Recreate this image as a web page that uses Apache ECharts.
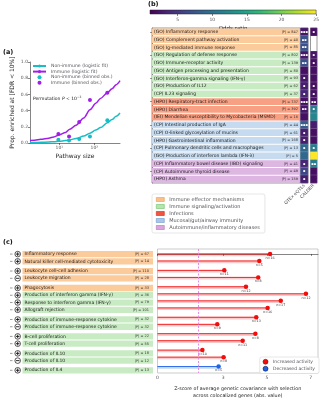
<!DOCTYPE html>
<html>
<head>
<meta charset="utf-8">
<script src="https://cdn.jsdelivr.net/npm/echarts@6/dist/echarts.min.js"></script>
<style>
html,body{margin:0;padding:0;background:#fff;}
#chart{width:322px;height:400px;}
</style>
</head>
<body>
<div id="chart"></div>
<script>
// ---------- (a) share of pathways enriched vs pathway size ----------
const aFitSizes     = [1.46, 2, 3, 5, 7, 10, 15, 20, 30, 50, 75, 110, 150, 235, 320, 420, 540];
const aFitImmune    = [0.03, 0.035, 0.045, 0.06, 0.075, 0.1, 0.13, 0.17, 0.22, 0.31, 0.41, 0.49, 0.55, 0.62, 0.67, 0.72, 0.77];
const aFitNonImmune = [0.004, 0.006, 0.008, 0.012, 0.016, 0.022, 0.03, 0.04, 0.055, 0.085, 0.12, 0.16, 0.19, 0.25, 0.29, 0.33, 0.37];
const aBinSizes     = [9.4, 19, 37, 75, 235];
const aBinImmune    = [0.11, 0.08, 0.26, 0.53, 0.62];
const aBinNonImmune = [0.04, 0.03, 0.05, 0.08, 0.28];

// ---------- (b) odds ratios per pathway ----------
const bTerms = [
  '(GO) Inflammatory response', '(GO) Complement pathway activation', '(GO) Ig-mediated immune response',
  '(GO) Regulation of defense response', '(GO) Immune-receptor activity', '(GO) Antigen processing and presentation',
  '(GO) Interferon-gamma signaling (IFN-γ)', '(GO) Production of IL12', '(CP) IL23 signaling',
  '(HPO) Respiratory-tract infection', '(HPO) Diarrhea', '(IEI) Mendelian susceptibility to Mycobacteria (MSMD)',
  '(CP) Intestinal production of IgA', '(CP) O-linked glycosylation of mucins', '(HPO) Gastrointestinal inflammation',
  '(CP) Pulmonary dendritic cells and macrophages', '(GO) Production of interferon lambda (IFN-λ)',
  '(CP) Inflammatory bowel disease (IBD) signaling', '(CP) Autoimmune thyroid disease', '(HPO) Asthma'
];
const bSizes       = [847, 40, 85, 802, 139, 80, 93, 62, 37, 737, 392, 16, 44, 61, 168, 13, 5, 41, 49, 159];
const bGroup       = [0, 0, 0, 1, 1, 1, 1, 1, 1, 2, 2, 2, 3, 3, 3, 3, 3, 4, 4, 4];
const bColumns     = ['GTEx eQTLs', 'CALDER'];
const bOddsGTEx    = [2.5, 7, 7, 2.5, 7, 2, 2.5, 3, 3.5, 2, 2.5, 2, 8, 3, 3, 9, 9, 3.5, 6, 3];
const bOddsCALDER  = [2, null, null, 2.5, 2, 2, 2, 2, 2, 2, 11, 12, 3, 2, 2, 11, 25, 11, 2, 2];
const bStarsGTEx   = [3, 2, 2, 3, 2, 0, 1, 1, 1, 3, 2, 0, 3, 1, 1, 1, 0, 1, 1, 1];
const bStarsCALDER = [1, 0, 0, 1, 1, 0, 0, 1, 1, 2, 1, 0, 0, 0, 0, 1, 0, 2, 0, 0];
const groupNames = ['Immune effector mechanisms', 'Immune signaling/activation', 'Infections',
                    'Mucosal/gut/airway immunity', 'Autoimmune/inflammatory diseases'];
const orTicks = [5, 10, 15, 20, 25];

// ---------- (c) selection z-scores ----------
const cTerms = [
  'Inflammatory response', 'Natural killer cell-mediated cytotoxicity', 'Leukocyte cell-cell adhesion',
  'Leukocyte migration', 'Phagocytosis', 'Production of interferon gamma (IFN-γ)',
  'Response to interferon gamma (IFN-γ)', 'Allograft rejection', 'Production of immune-response cytokine',
  'Production of immune-response cytokine', 'B-cell proliferation', 'T-cell proliferation',
  'Production of IL10', 'Production of IL10', 'Production of IL4'
];
const cSign   = ['+', '+', '+', '-', '+', '+', '+', '+', '+', '-', '+', '+', '+', '-', '+'];
const cSizes  = [67, 14, 110, 28, 33, 36, 79, 101, 32, 32, 22, 55, 18, 12, 13];
const cGroup  = [0, 0, 0, 0, 0, 1, 1, 1, 1, 1, 1, 1, 1, 1, 1];
const cBlock  = [0, 0, 1, 1, 2, 2, 2, 2, 3, 3, 4, 4, 5, 5, 6];
const cZ      = [5.14, 4.65, 3.05, 4.6, 4.04, 6.78, 5.63, 5.03, 4.51, 2.73, 4.47, 3.89, 2.05, 3.02, 2.79];
const cN      = [16, 5, 11, 8, 12, 12, 17, 16, 13, 9, 8, 11, 10, 8, 5];
const cDecreased = [0, 0, 0, 0, 0, 0, 0, 0, 0, 0, 0, 0, 0, 0, 1];
const cThreshold = 1.85;
const cTicks = [0, 3, 5, 7];

// ---------- styling ----------
const FONT = 'DejaVu Sans';
const CYAN = '#17bec6', PURPLE = '#a11ee8';
const RED = '#f20d0d', BLUE = '#1f63e6';
const viridis = ['#440154', '#482878', '#3e4989', '#31688e', '#26828e', '#1f9e89', '#35b779', '#6ece58', '#b5de2b', '#fde725'];
const bandColors  = ['#fccb9c', '#c9ebc3', '#f8a083', '#c6dbef', '#ddb6e2'];
const patchColors = ['#f9c08c', '#b6e3ae', '#f0553f', '#a9c6e8', '#d8a6dd'];
const patchEdges  = ['#ef9a50', '#6cc465', '#d8201a', '#6f98cf', '#b76fc3'];
const sup = {1: '¹', 2: '²', 3: '³'};

// vertical slot of each row in (c): small extra gap between blocks
const cPos = cTerms.map((_, i) => i + 0.33 * cBlock[i]);

const chart = echarts.init(document.getElementById('chart'), null, {renderer: 'canvas'});

const thin = {color: '#333', width: 0.6};

const bandSeries = groupNames.map((g, gi) => ({
  name: g, type: 'bar', xAxisIndex: 2, yAxisIndex: 2,
  barWidth: '86%', barGap: '-100%',
  itemStyle: {color: bandColors[gi]},
  label: {show: true, position: 'insideLeft', distance: 2, fontSize: 4.5, color: '#222',
          formatter: p => p.name},
  data: bTerms.map((t, i) => bGroup[i] === gi ? 1 : '-')
}));

const heatData = (odds, stars) => odds
  .map((v, i) => v == null ? null : [0, i, v, stars[i]])
  .filter(d => d);

const heatLabel = {
  show: true, color: '#fff', fontSize: 3.6,
  formatter: p => '▪'.repeat(p.data[3])
};

const option = {
  animation: false,
  textStyle: {fontFamily: FONT, color: '#222'},
  grid: [
    {left: 30, top: 62, width: 90, height: 81},
    {left: 150, top: 10, width: 169, height: 4},
    {left: 152, top: 28, width: 148, height: 155, show: true, borderColor: '#555', borderWidth: 0.6},
    {left: 300.5, top: 28, width: 7.5, height: 155, show: true, borderColor: '#555', borderWidth: 0.6},
    {left: 310.5, top: 28, width: 6.5, height: 155, show: true, borderColor: '#555', borderWidth: 0.6},
    {left: 9, top: 249, width: 144, height: 128},
    {left: 157.5, top: 249, width: 160.5, height: 128, show: true, borderColor: '#aaa', borderWidth: 0.6}
  ],
  xAxis: [
    {gridIndex: 0, type: 'log', logBase: 10, min: 1.46, max: 540,
     axisLine: {show: true, lineStyle: thin}, axisTick: {show: true, length: 2, lineStyle: thin},
     splitLine: {show: false}, minorTick: {show: false},
     axisLabel: {fontSize: 4.5, margin: 2, showMinLabel: false, showMaxLabel: false,
       formatter: v => { const e = Math.round(Math.log10(v)); return Math.abs(Math.log10(v) - e) < 1e-6 && sup[e] ? '10' + sup[e] : ''; }},
     name: 'Pathway size', nameLocation: 'middle', nameGap: 10, nameTextStyle: {fontSize: 6}},
    {gridIndex: 1, type: 'value', min: 1, max: 25,
     axisLine: {show: false}, splitLine: {show: false},
     axisTick: {show: true, length: 2, customValues: orTicks, lineStyle: thin},
     axisLabel: {fontSize: 4.5, margin: 3.5, customValues: orTicks},
     name: 'Odds ratio', nameLocation: 'middle', nameGap: 11.5, nameTextStyle: {fontSize: 5.5}},
    {gridIndex: 2, type: 'value', min: 0, max: 1, show: false},
    {gridIndex: 3, type: 'category', data: [bColumns[0]], axisLine: {show: false}, axisTick: {show: false},
     axisLabel: {rotate: 45, fontSize: 4.5, margin: 2}},
    {gridIndex: 4, type: 'category', data: [bColumns[1]], axisLine: {show: false}, axisTick: {show: false},
     axisLabel: {rotate: 45, fontSize: 4.5, margin: 2}},
    {gridIndex: 5, type: 'value', min: 0, max: 1, show: false},
    {gridIndex: 6, type: 'value', min: 0, max: 7.33, splitLine: {show: false},
     axisLine: {show: true, lineStyle: thin},
     axisTick: {show: true, length: 2, customValues: cTicks, lineStyle: thin},
     axisLabel: {fontSize: 4.5, margin: 2, customValues: cTicks},
     name: 'Z-score of average genetic covariance with selection\nacross colocalized genes (abs. value)',
     nameLocation: 'middle', nameGap: 13, nameTextStyle: {fontSize: 4.8, lineHeight: 6.5}}
  ],
  yAxis: [
    {gridIndex: 0, type: 'value', min: 0, max: 1, interval: 0.2, splitLine: {show: false},
     axisLine: {show: true, lineStyle: thin}, axisTick: {show: true, length: 2, lineStyle: thin},
     axisLabel: {fontSize: 4.5, margin: 2, formatter: v => v.toFixed(1)},
     name: 'Prop. enriched at [FDR < 10%]', nameLocation: 'middle', nameGap: 15, nameTextStyle: {fontSize: 6}},
    {gridIndex: 1, type: 'value', min: 0, max: 1, show: false},
    {gridIndex: 2, type: 'category', data: bTerms, inverse: true,
     axisLine: {show: true, lineStyle: {color: '#555', width: 0.6}},
     axisTick: {show: true, length: 2, alignWithLabel: true, lineStyle: {color: '#555', width: 0.6}},
     axisLabel: {show: false}},
    {gridIndex: 3, type: 'category', data: bTerms, inverse: true, show: false},
    {gridIndex: 4, type: 'category', data: bTerms, inverse: true, show: false},
    {gridIndex: 5, type: 'value', min: -0.7, max: 16.9, inverse: true, show: false},
    {gridIndex: 6, type: 'value', min: -0.7, max: 16.9, inverse: true, show: false}
  ],
  visualMap: {
    type: 'continuous', show: false, min: 1, max: 25, dimension: 2,
    seriesIndex: [11, 12], inRange: {color: viridis}
  },
  legend: [
    {left: 32, top: 63.5, orient: 'vertical', itemGap: 0.6, itemWidth: 13, itemHeight: 4, padding: 0,
     textStyle: {fontSize: 4.6}, selectedMode: false,
     data: ['Non-immune (logistic fit)', 'Immune (logistic fit)', 'Non-immune (binned obs.)', 'Immune (binned obs.)']},
    {left: 152, top: 194, orient: 'vertical', itemGap: 2, itemWidth: 8, itemHeight: 4, padding: [3, 5, 3, 4],
     borderColor: '#ccc', borderWidth: 0.5, borderRadius: 2, icon: 'rect', selectedMode: false,
     textStyle: {fontSize: 5},
     data: groupNames.map((g, i) => ({name: g, itemStyle: {color: patchColors[i], borderColor: patchEdges[i], borderWidth: 0.6}}))},
    {right: 3, top: 357, orient: 'vertical', itemGap: 1.5, itemWidth: 5, itemHeight: 5, padding: [2, 4, 2, 3],
     borderColor: '#ccc', borderWidth: 0.5, borderRadius: 2, backgroundColor: '#fff', selectedMode: false,
     textStyle: {fontSize: 4.5},
     data: [{name: 'Increased activity', itemStyle: {borderColor: '#600', borderWidth: 0.5}},
            {name: 'Decreased activity', itemStyle: {borderColor: '#003', borderWidth: 0.5}}]}
  ],
  series: [
    // (a)
    {name: 'Non-immune (logistic fit)', type: 'line', xAxisIndex: 0, yAxisIndex: 0, smooth: 0.3, smoothMonotone: 'x',
     symbol: 'none', lineStyle: {color: CYAN, width: 1.5}, itemStyle: {color: CYAN},
     data: aFitSizes.map((s, i) => [s, aFitNonImmune[i]])},
    {name: 'Immune (logistic fit)', type: 'line', xAxisIndex: 0, yAxisIndex: 0, smooth: 0.3, smoothMonotone: 'x',
     symbol: 'none', lineStyle: {color: PURPLE, width: 1.5}, itemStyle: {color: PURPLE},
     data: aFitSizes.map((s, i) => [s, aFitImmune[i]])},
    {name: 'Non-immune (binned obs.)', type: 'scatter', xAxisIndex: 0, yAxisIndex: 0, symbolSize: 4,
     itemStyle: {color: CYAN, opacity: 1}, data: aBinSizes.map((s, i) => [s, aBinNonImmune[i]])},
    {name: 'Immune (binned obs.)', type: 'scatter', xAxisIndex: 0, yAxisIndex: 0, symbolSize: 4,
     itemStyle: {color: PURPLE, opacity: 1}, data: aBinSizes.map((s, i) => [s, aBinImmune[i]])},
    // colour bar for the odds ratio scale
    {type: 'custom', xAxisIndex: 1, yAxisIndex: 1, silent: true, data: [[1, 25]],
     renderItem: (params, api) => {
       const p0 = api.coord([api.value(0), 0]);
       const p1 = api.coord([api.value(1), 1]);
       return {type: 'rect',
         shape: {x: p0[0], y: p1[1], width: p1[0] - p0[0], height: p0[1] - p1[1]},
         style: {fill: new echarts.graphic.LinearGradient(0, 0, 1, 0,
                   viridis.map((c, i) => ({offset: i / (viridis.length - 1), color: c}))),
                 stroke: '#222', lineWidth: 0.5}};
     }},
    // (b) category bands
    ...bandSeries,
    {name: 'pathway size', type: 'bar', xAxisIndex: 2, yAxisIndex: 2, barWidth: '86%', barGap: '-100%',
     silent: true, itemStyle: {color: 'rgba(0,0,0,0)'},
     label: {show: true, position: 'insideRight', distance: 2, fontSize: 3.5, color: '#333',
             formatter: p => '|P| = ' + bSizes[p.dataIndex]},
     data: bTerms.map(() => 1)},
    // (b) odds-ratio cells
    {type: 'heatmap', xAxisIndex: 3, yAxisIndex: 3, data: heatData(bOddsGTEx, bStarsGTEx),
     itemStyle: {borderColor: 'rgba(255,255,255,0.35)', borderWidth: 0.5}, label: heatLabel},
    {type: 'heatmap', xAxisIndex: 4, yAxisIndex: 4, data: heatData(bOddsCALDER, bStarsCALDER),
     itemStyle: {borderColor: 'rgba(255,255,255,0.35)', borderWidth: 0.5}, label: heatLabel},
    // (c) row labels with direction icons
    {type: 'custom', xAxisIndex: 5, yAxisIndex: 5, silent: true,
     data: cTerms.map((t, i) => [0, cPos[i], i]),
     renderItem: (params, api) => {
       const i = api.value(2);
       const y = api.coord([0, api.value(1)])[1];
       const cs = params.coordSys;
       const bandL = cs.x + 13.5, bandR = cs.x + cs.width, h = 6.3;
       const cx = cs.x + 8.7;
       const kids = [
         {type: 'line', shape: {x1: cs.x + 1, y1: y, x2: cs.x + 3.5, y2: y}, style: {stroke: '#555', lineWidth: 0.6}},
         {type: 'circle', shape: {cx: cx, cy: y, r: 2.8}, style: {fill: '#fff', stroke: '#111', lineWidth: 0.7}},
         {type: 'line', shape: {x1: cx - 1.8, y1: y, x2: cx + 1.8, y2: y}, style: {stroke: '#111', lineWidth: 0.9}},
         {type: 'rect', shape: {x: bandL, y: y - h / 2, width: bandR - bandL, height: h}, style: {fill: bandColors[cGroup[i]]}},
         {type: 'text', style: {text: cTerms[i], x: bandL + 2, y: y, verticalAlign: 'middle', fontSize: 4.5, fill: '#222', fontFamily: FONT}},
         {type: 'text', style: {text: '|P| = ' + cSizes[i], x: bandR - 4, y: y, align: 'right', verticalAlign: 'middle', fontSize: 3.5, fill: '#333', fontFamily: FONT}}
       ];
       if (cSign[i] === '+') {
         kids.push({type: 'line', shape: {x1: cx, y1: y - 1.8, x2: cx, y2: y + 1.8}, style: {stroke: '#111', lineWidth: 0.9}});
       }
       return {type: 'group', children: kids};
     }},
    // (c) stems
    {type: 'custom', xAxisIndex: 6, yAxisIndex: 6, silent: true,
     data: cZ.map((z, i) => [z, cPos[i], cDecreased[i]]),
     renderItem: (params, api) => {
       const a = api.coord([0, api.value(1)]);
       const b = api.coord([api.value(0), api.value(1)]);
       const down = api.value(2) === 1;
       return {type: 'group', children: [
         {type: 'line', shape: {x1: a[0], y1: a[1] + 0.9, x2: b[0], y2: b[1] + 0.9},
          style: {stroke: down ? 'rgba(31,99,230,0.25)' : 'rgba(242,13,13,0.22)', lineWidth: 2.6}},
         {type: 'line', shape: {x1: a[0], y1: a[1], x2: b[0], y2: b[1]},
          style: {stroke: down ? BLUE : RED, lineWidth: 0.9}}
       ]};
     }},
    {name: 'Increased activity', type: 'scatter', xAxisIndex: 6, yAxisIndex: 6, symbolSize: 4.5,
     itemStyle: {color: RED, opacity: 1},
     label: {show: true, position: 'bottom', distance: 0.3, fontSize: 3.3, color: '#333', formatter: p => 'n=' + p.data[2]},
     markLine: {silent: true, symbol: ['none', 'none'], label: {show: false},
                lineStyle: {type: [2, 1.5], color: '#e48be6', width: 1}, data: [{xAxis: cThreshold}]},
     data: cZ.map((z, i) => [z, cPos[i], cN[i]]).filter((d, i) => !cDecreased[i])},
    {name: 'Decreased activity', type: 'scatter', xAxisIndex: 6, yAxisIndex: 6, symbolSize: 4.5,
     itemStyle: {color: BLUE, opacity: 1},
     label: {show: true, position: 'bottom', distance: 0.3, fontSize: 3.3, color: '#333', formatter: p => 'n=' + p.data[2]},
     data: cZ.map((z, i) => [z, cPos[i], cN[i]]).filter((d, i) => cDecreased[i])}
  ],
  graphic: [
    {type: 'text', left: 3, top: 49, style: {text: '(a)', fontSize: 6.5, fontWeight: 'bold', fill: '#111', fontFamily: FONT}},
    {type: 'text', left: 148, top: 1, style: {text: '(b)', fontSize: 6.5, fontWeight: 'bold', fill: '#111', fontFamily: FONT}},
    {type: 'text', left: 3, top: 239, style: {text: '(c)', fontSize: 6.5, fontWeight: 'bold', fill: '#111', fontFamily: FONT}},
    {type: 'text', left: 33, top: 95.5, style: {
      text: '{n|Permutation }{i|P}{n| < 10}{s|−3}',
      rich: {n: {fontSize: 4.5, fontFamily: FONT, fill: '#222'},
             i: {fontSize: 4.5, fontFamily: FONT, fontStyle: 'italic', fill: '#222'},
             s: {fontSize: 3, fontFamily: FONT, fill: '#222', verticalAlign: 'top', padding: [0, 0, 3, 0]}}}}
  ]
};

chart.setOption(option);
</script>
</body>
</html>
